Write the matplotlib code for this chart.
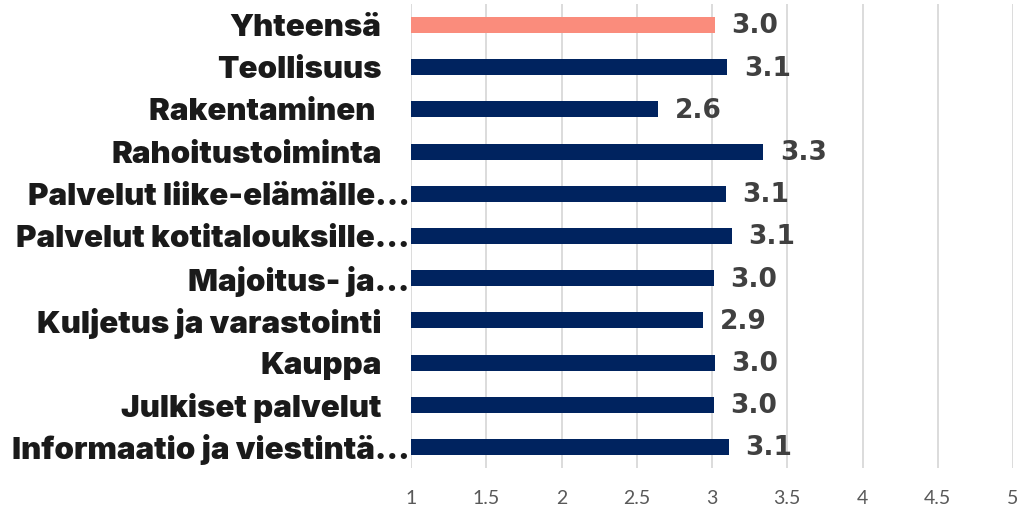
import matplotlib.pyplot as plt
import matplotlib.transforms as mtransforms
import numpy as np

# Data (top to bottom as shown)
categories = ['Yhteensä', 'Teollisuus', 'Rakentaminen ', 'Rahoitustoiminta',
              'Palvelut liike-elämälle...', 'Palvelut kotitalouksille...',
              'Majoitus- ja...', 'Kuljetus ja varastointi', 'Kauppa',
              'Julkiset palvelut', 'Informaatio ja viestintä...']
values = [3.02, 3.10, 2.64, 3.34, 3.09, 3.13, 3.01, 2.94, 3.02, 3.01, 3.11]
bar_colors = ['#FA8C7C'] + ['#00235F'] * 10
xticks = [1, 1.5, 2, 2.5, 3, 3.5, 4, 4.5, 5]
xtick_labels = ['1', '1.5', '2', '2.5', '3', '3.5', '4', '4.5', '5']

fig = plt.figure(figsize=(10.18, 5.12), dpi=100)
ax = fig.add_axes([411 / 1018, 1 - 468 / 512, (1013 - 411) / 1018, (468 - 4) / 512])

y = np.arange(len(categories))[::-1]
ax.barh(y, np.array(values) - 1, left=1, height=0.38, color=bar_colors, zorder=3)

for yi, v in zip(y, values):
    ax.annotate(f'{v:.1f}', (v, yi), xytext=(12, -1), textcoords='offset points',
                ha='left', va='center', fontsize=19, fontweight='bold',
                family='DejaVu Sans', color='#404040', zorder=4)

ax.set_xlim(1, 5)
ax.set_ylim(-0.5, len(categories) - 0.5)
ax.set_xticks(xticks)
ax.set_xticklabels(xtick_labels, fontsize=14, color='#595959', family='Lato')
ax.set_yticks(y)
ax.set_yticklabels(categories, fontsize=22.5, family=['Inter', 'DejaVu Sans'],
                   fontweight=900, color='#1a1a1a')
ax.tick_params(axis='both', length=0)
ax.tick_params(axis='y', pad=1)
ax.tick_params(axis='x', pad=16)

# labels that are not cut short stand a little away from the axis
shift = mtransforms.ScaledTranslation(-0.28, 0, fig.dpi_scale_trans)
for lab in ax.get_yticklabels():
    if not lab.get_text().endswith('...'):
        lab.set_transform(lab.get_transform() + shift)

ax.grid(axis='x', color='#D9D9D9', linewidth=1.3, zorder=0)
for s in ax.spines.values():
    s.set_visible(False)

plt.savefig('out.png', dpi=100)
